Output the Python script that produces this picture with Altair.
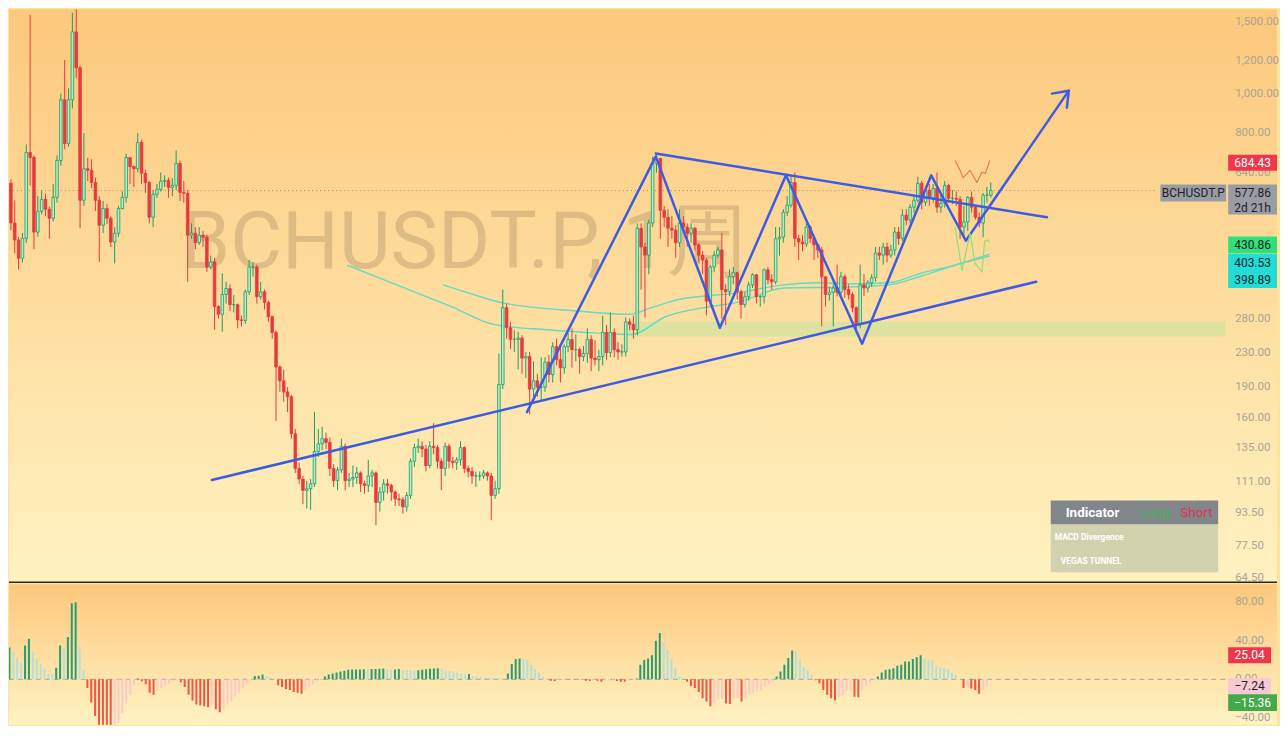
import altair as alt
import pandas as pd
import numpy as np

# ---------------- data (weekly candles) ----------------
first_open = 420
closes = [
    602, 481, 437, 394, 441, 717, 697, 457, 514, 550,
    520, 494, 556, 685, 966, 754, 966, 1418, 1157, 547,
    654, 648, 605, 547, 475, 522, 494, 432, 454, 522,
    556, 697, 662, 654, 759, 637, 605, 497, 566, 582,
    609, 612, 588, 595, 674, 572, 569, 449, 454, 430,
    449, 444, 375, 386, 300, 287, 321, 332, 303, 303,
    278, 277, 326, 375, 375, 317, 326, 307, 283, 259,
    213, 197, 185, 180, 146, 120, 113, 106, 107, 110,
    132, 138, 142, 139, 120, 112, 119, 136, 112, 113,
    114, 117, 110, 109, 115, 117, 99, 105, 110, 109,
    105, 101, 100.5, 96.5, 103, 125, 135, 136, 134, 122,
    136, 135, 125, 120, 136, 125, 124, 126, 135, 120,
    118, 115, 115, 115, 117, 115, 103, 107, 193, 298,
    266, 249, 249, 251, 224, 226, 188, 197, 190, 190,
    219, 204, 239, 222, 212, 239, 249, 235, 235, 226,
    230, 249, 224, 222, 226, 259, 231, 259, 235, 232,
    232, 275, 271, 263, 467, 420, 401, 481, 674, 693,
    517, 497, 467, 462, 430, 481, 470, 454, 467, 425,
    401, 390, 309, 375, 401, 413, 330, 326, 355, 363,
    326, 303, 317, 339, 359, 317, 317, 369, 349, 345,
    440, 444, 511, 532, 605, 441, 432, 427, 470, 441,
    425, 413, 355, 321, 325, 333, 325, 355, 330, 321,
    298, 271, 339, 333, 343, 353, 406, 401, 420, 401,
    413, 457, 441, 503, 489, 526, 547, 602, 541, 579,
    553, 585, 526, 538, 595, 553, 553, 550, 470, 484,
    556, 526, 497, 481, 563, 563, 577.86,
]
highs = [
    640, 615, 547, 445, 455, 750, 1560, 705, 560, 578,
    568, 528, 600, 705, 1000, 1210, 1030, 1580, 1620, 1170,
    800, 695, 690, 622, 560, 545, 535, 500, 470, 530,
    575, 712, 690, 665, 800, 770, 650, 610, 580, 600,
    640, 630, 622, 620, 725, 685, 610, 580, 480, 470,
    470, 460, 450, 400, 395, 302, 362, 345, 340, 320,
    305, 285, 330, 390, 385, 380, 345, 330, 310, 285,
    262, 215, 210, 190, 182, 150, 124, 115, 112, 113,
    165, 150, 152, 147, 143, 123, 121, 142, 138, 117,
    122, 121, 118, 112, 126, 119, 118, 108, 113, 113,
    110, 106, 104, 102, 105, 127, 138, 142, 140, 137,
    140, 155, 137, 127, 139, 138, 128, 128, 140, 136,
    122, 121, 118, 118, 119, 118, 117, 112, 230, 330,
    305, 275, 262, 260, 255, 232, 232, 220, 205, 225,
    225, 228, 245, 250, 240, 242, 258, 265, 256, 238,
    240, 265, 255, 248, 235, 285, 270, 290, 265, 245,
    242, 282, 280, 285, 480, 480, 430, 490, 700, 712,
    695, 530, 520, 500, 475, 520, 500, 480, 480, 470,
    430, 410, 395, 380, 410, 420, 455, 340, 370, 375,
    365, 330, 325, 345, 362, 360, 320, 372, 375, 360,
    470, 470, 520, 560, 630, 640, 450, 450, 480, 475,
    450, 425, 420, 355, 335, 340, 380, 365, 360, 340,
    325, 300, 380, 360, 348, 360, 420, 420, 430, 430,
    425, 470, 470, 520, 520, 535, 560, 625, 610, 590,
    600, 600, 640, 570, 610, 600, 580, 575, 560, 530,
    560, 575, 530, 510, 570, 590, 605,
]
lows = [
    405, 462, 405, 370, 385, 430, 595, 415, 445, 505,
    500, 440, 485, 540, 665, 730, 740, 920, 1090, 467,
    530, 610, 585, 515, 386, 455, 478, 420, 383, 445,
    520, 540, 600, 590, 640, 600, 570, 480, 470, 555,
    575, 590, 555, 560, 580, 545, 540, 345, 440, 415,
    425, 420, 365, 370, 263, 280, 260, 305, 292, 290,
    265, 268, 272, 320, 355, 305, 312, 295, 275, 250,
    157, 185, 175, 165, 142, 117, 110, 98, 95.6, 95,
    108, 128, 133, 134, 115, 108, 106, 117, 106, 108,
    108, 110, 105, 104, 105, 108, 87, 94, 100, 104,
    100, 97, 97, 93, 94, 101, 121, 131, 128, 118,
    120, 130, 120, 106, 115, 120, 120, 119, 122, 117,
    114, 110, 108, 112, 113, 112, 89.5, 101, 104, 188,
    250, 236, 232, 210, 205, 200, 163, 180, 180, 175,
    185, 195, 195, 215, 195, 205, 232, 212, 220, 205,
    220, 218, 208, 215, 208, 215, 222, 225, 225, 222,
    226, 226, 262, 250, 255, 330, 282, 360, 470, 640,
    440, 470, 420, 440, 395, 420, 455, 420, 430, 412,
    385, 360, 285, 300, 365, 395, 280, 270, 318, 340,
    312, 280, 298, 310, 333, 305, 300, 305, 340, 330,
    340, 400, 430, 500, 525, 420, 390, 410, 420, 430,
    390, 395, 268, 300, 310, 268, 318, 320, 315, 312,
    290, 258, 265, 318, 325, 335, 345, 390, 380, 385,
    395, 400, 425, 435, 475, 480, 510, 540, 520, 530,
    530, 540, 510, 510, 525, 540, 535, 530, 440, 445,
    460, 510, 490, 470, 444, 540, 555,
]

# MACD histogram values
macd_hist = [
    33, 33, 28, 22, 18, 35, 42, 28, 21, 16,
    11, 5.5, 5, 12, 35, 32, 44, 79, 80, 34,
    9.6, -9, -24, -38, -51, -55, -57, -61, -56, -45,
    -35, -25, -16, -6, 1, -2, -5, -14, -16, -11,
    -9, -7, -4, -2, -1, -3, -8, -16, -22, -26,
    -27, -28, -29, -26, -31, -34, -30, -26, -23, -18,
    -14, -9, -5, -1, 3.5, 3.6, 5, 3.5, 2, 0.3,
    -6, -8, -10, -11, -13, -14, -15, -11, -8, -5,
    -2, 0.3, 3, 5, 6, 7, 8, 9, 10, 10.1,
    10.2, 10.3, 10.5, 10.4, 10.6, 10.8, 11, 11.2, 10.5, 10,
    10.3, 10.6, 10, 9.8, 9.4, 9.2, 9.5, 10, 10.5, 11,
    11.2, 11.4, 11.2, 10, 9, 8, 7, 6, 5, 5.5,
    3.5, 3, 2.8, 2, 1.8, 1.6, 1.4, 1, 0.7,
    6, 16, 21, 21.5, 21, 20, 15, 11, 7, 3,
    0.3, -1.5, -1.6, -1, -0.8, 0.2, 0.3, 0.4, 0.2, -0.5,
    -1.5, -1.6, -1, -1.5, -2.4, -1.8, -1.6, -1.5, -1.6, -2.4,
    -2.5, -1, 0.2, 1, 15, 20, 21.6, 25, 40, 48,
    38.6, 30, 21, 12, 3, 0.1, -2.4, -7, -9, -13,
    -19.5, -23, -28, -25, -21, -20.5, -25, -25.5, -20, -19.5,
    -23, -19.5, -16, -14, -12, -11, -7.5, -5, -2.4, 3,
    8, 15, 22, 30, 28.5, 20, 12, 10, 4.4, -1,
    -4, -11, -16, -19.5, -22, -18, -16, -12, -11, -18,
    -18.5, -11, -7, -3.4, -1, 3, 7, 10, 10.5, 11.6,
    14, 15, 18.5, 18.6, 21, 23, 25, 21.6, 20, 19.8,
    14, 12, 11.8, 11, 7, 4.4, 0.3, -9, -8, -9.5,
    -11, -15, -11, -7.24,
]

# Vegas tunnel EMAs (bar index, price)
ema_slow_i = [88.5, 102.7, 115.5, 126.6, 140.5, 154.1, 162.6, 171.3, 183.2, 190.1, 202.2, 219.2, 229.5, 238.2, 246.7, 255.7]
ema_slow_p = [379, 335, 300, 271, 263, 258, 256, 283, 300, 307, 333, 335, 339, 357, 379, 398.89]
ema_fast_i = [113.5, 123.2, 128.4, 149.0, 161.8, 167.7, 174.7, 190.1, 202.2, 210.7, 221.0, 229.5, 238.2, 244.9, 255.7]
ema_fast_p = [339, 317, 307, 292, 287, 298, 312, 324, 339, 343, 341, 343, 363, 375, 403.53]
# divergence lines (short)
div_green_i = [246.7, 248.5, 250.6, 251.9, 253.7, 254.4, 255.2, 255.7]
div_green_p = [470, 367, 454, 383, 365, 434, 437, 430.86]
div_red_i = [246.7, 248.0, 248.8, 250.6, 252.4, 253.7, 254.6, 255.7]
div_red_p = [685, 648, 622, 648, 605, 641, 637, 684.43]

# drawn pattern lines (bar index, price)
support_i = [53.3, 267.8]
support_p = [112.4, 345]
resist_i = [168.8, 270.6]
resist_p = [713, 497]
zig_i = [135.3, 168.8, 185.5, 202.7, 222.5, 240.5, 249.5, 276.3]
zig_p = [165, 701, 266, 630, 243, 630, 435, 1017]
arrow_i = [271.9, 276.3, 275.8]
arrow_p = [1000, 1017, 924]

band_i = [161.8, 320]
band_p = [253, 275]

price_ticks = [64.5, 77.5, 93.5, 111, 135, 160, 190, 230, 280, 340, 640, 800, 1000, 1200, 1500]
macd_ticks = [-40, 0, 40, 80]

last_price = 577.86

# ---------------- colours ----------------
GREEN_S, GREEN_F, RED = "#179f66", "#b4eccb", "#e8393d"
BLUE = "#3d5ce4"
HIST_COL = {"gu": "#2a9c72", "gd": "#b3dfd8", "rd": "#ee5545", "ru": "#fbc9c9"}

# ---------------- frames ----------------
N = len(closes)
opens = [first_open] + closes[:-1]
df = pd.DataFrame({"i": np.arange(N), "o": opens, "c": closes, "h": highs, "l": lows})
up = df["c"] >= df["o"]
df["stroke"] = np.where(up, GREEN_S, RED)
df["fill"] = np.where(up, GREEN_F, RED)

M = len(macd_hist)
mv = np.array(macd_hist, dtype=float)
prev = np.concatenate([[mv[0]], mv[:-1]])
cat = np.where(mv >= 0, np.where(mv >= prev, "gu", "gd"), np.where(mv <= prev, "rd", "ru"))
dm = pd.DataFrame({"j": np.arange(M), "v": mv, "z": 0.0, "col": [HIST_COL[c] for c in cat]})

W, H1, H2 = 1220, 575, 141
s = 995.0 / (N - 1)
xs = alt.Scale(domain=[7.0 / s, 1227.0 / s], nice=False, zero=False)
ys = alt.Scale(type="log", domain=[63.0, 1613.0], nice=False, zero=False)
m0, m1 = -0.5, 992.0
sm = (m1 - m0) / (M - 1)
xms = alt.Scale(domain=[(8 - m0) / sm, (1228 - m0) / sm], nice=False, zero=False)
yms = alt.Scale(domain=[-47.2, 98.5], nice=False, zero=False)

one = pd.DataFrame({"a": [0]})
FONT = "Roboto"


def grad(c0, c1):
    return alt.Gradient(gradient="linear", stops=[alt.GradientStop(color=c0, offset=0),
                                                   alt.GradientStop(color=c1, offset=1)],
                        x1=0, x2=0, y1=0, y2=1)


def vrect(x0, x1, y0, y1, fill, **kw):
    return alt.Chart(one).mark_rect(fill=fill, **kw).encode(
        x=alt.value(x0), x2=alt.value(x1), y=alt.value(y0), y2=alt.value(y1))


def vtext(x, y, text, **kw):
    return alt.Chart(one).mark_text(text=text, font=FONT, **kw).encode(x=alt.value(x), y=alt.value(y))


def lines_df(pairs):
    rows = []
    for name, ii, pp in pairs:
        for k, (a, b) in enumerate(zip(ii, pp)):
            rows.append({"seg": name, "k": k, "i": a, "p": b})
    return pd.DataFrame(rows)


def value_box(v, label, fill, tcolor, top, bot, x0, x1, yscale, fs=12, second=None):
    d = pd.DataFrame({"v": [v]})
    r = alt.Chart(d).mark_rect(fill=fill, yOffset=top, y2Offset=bot).encode(
        x=alt.value(x0), x2=alt.value(x1),
        y=alt.Y("v:Q", scale=yscale, axis=None), y2="v:Q")
    mid = (top + bot) / 2 if second is None else top + 8
    t = alt.Chart(d).mark_text(text=label, font=FONT, fontSize=fs, color=tcolor, align="center",
                               baseline="middle", dy=mid).encode(
        x=alt.value((x0 + x1) / 2), y=alt.Y("v:Q", scale=yscale, axis=None))
    layers = [r, t]
    if second is not None:
        layers.append(alt.Chart(d).mark_text(text=second, font=FONT, fontSize=fs, color=tcolor,
                                             align="center", baseline="middle", dy=top + 23).encode(
            x=alt.value((x0 + x1) / 2), y=alt.Y("v:Q", scale=yscale, axis=None)))
    return layers


X = alt.X("i:Q", scale=xs, axis=None)

# ---------------- price pane ----------------
bg = vrect(0, 1272, 0, H1, grad("#fcc87c", "#fff2c1"))
watermark = vtext(172, 260, "BCHUSDT.P, 1周", fontSize=80, color="#b3956c", opacity=0.42,
                  align="left", baseline="alphabetic")

band = alt.Chart(pd.DataFrame({"i0": [band_i[0]], "i1": [band_i[1]], "p0": [band_p[0]], "p1": [band_p[1]]})).mark_rect(
    fill="#c3e3a0", opacity=0.55, clip=True).encode(
    x=alt.X("i0:Q", scale=xs, axis=None), x2="i1:Q",
    y=alt.Y("p0:Q", scale=ys, axis=None), y2="p1:Q")

dotted = alt.Chart(pd.DataFrame({"v": [last_price]})).mark_rule(
    strokeDash=[1, 3], color="#b3845a", strokeWidth=1).encode(
    x=alt.value(0), x2=alt.value(1152), y=alt.Y("v:Q", scale=ys, axis=None))

ema = alt.Chart(lines_df([("slow", ema_slow_i, ema_slow_p), ("fast", ema_fast_i, ema_fast_p)])).mark_line(
    color="#5fdcc4", strokeWidth=1.4, interpolate="monotone", clip=True).encode(
    x=X, y=alt.Y("p:Q", scale=ys, axis=None), detail="seg:N", order="k:Q")

wicks = alt.Chart(df).mark_rule(strokeWidth=1, clip=True).encode(
    x=X, y=alt.Y("l:Q", scale=ys, axis=None), y2="h:Q",
    color=alt.Color("stroke:N", scale=None, legend=None))
bodies = alt.Chart(df).mark_bar(size=2.6, strokeWidth=0.8, clip=True).encode(
    x=X, y=alt.Y("o:Q", scale=ys, axis=None), y2="c:Q",
    fill=alt.Fill("fill:N", scale=None, legend=None),
    stroke=alt.Stroke("stroke:N", scale=None, legend=None))

blue = alt.Chart(lines_df([("sup", support_i, support_p), ("res", resist_i, resist_p),
                           ("zig", zig_i, zig_p), ("arr", arrow_i, arrow_p)])).mark_line(
    color=BLUE, strokeWidth=2.5, strokeCap="round", strokeJoin="round").encode(
    x=X, y=alt.Y("p:Q", scale=ys, axis=None), detail="seg:N", order="k:Q")

div_lines = alt.Chart(lines_df([("g", div_green_i, div_green_p)])).mark_line(
    color="#80e27a", strokeWidth=1.1).encode(
    x=X, y=alt.Y("p:Q", scale=ys, axis=None), detail="seg:N", order="k:Q")
div_lines_r = alt.Chart(lines_df([("r", div_red_i, div_red_p)])).mark_line(
    color="#e8764e", strokeWidth=1.1).encode(
    x=X, y=alt.Y("p:Q", scale=ys, axis=None), detail="seg:N", order="k:Q")

ptick = pd.DataFrame({"v": price_ticks, "t": [f"{v:,.2f}" for v in price_ticks]})
price_labels = alt.Chart(ptick).mark_text(font=FONT, fontSize=11.5, color="#aaa496", align="left",
                                          baseline="middle").encode(
    x=alt.value(1230), y=alt.Y("v:Q", scale=ys, axis=None), text="t:N")

# indicator table
ind = [
    vrect(1045, 1213, 493, 517, "#81868a"),
    vrect(1045, 1213, 517, 565, "#d2d3ae"),
    vtext(1060, 505, "Indicator", fontSize=13.5, fontWeight="bold", color="#ffffff", align="left", baseline="middle"),
    vtext(1135, 505, "Long", fontSize=13.5, color="#3fb34f", align="left", baseline="middle"),
    vtext(1175, 505, "Short", fontSize=13.5, color="#e2334f", align="left", baseline="middle"),
    vtext(1049, 530, "MACD Divergence", fontSize=8.5, fontWeight="bold", color="#ffffff", align="left", baseline="middle"),
    vtext(1055, 554, "VEGAS TUNNEL", fontSize=8.5, fontWeight="bold", color="#ffffff", align="left", baseline="middle"),
]

boxes = []
boxes += value_box(684.43, "684.43", "#f0364a", "#ffffff", -6, 10, 1223, 1272, ys)
boxes += value_box(last_price, "BCHUSDT.P", "#9a9ca4", "#1d1f26", -6, 11, 1155, 1221, ys)
boxes += value_box(last_price, "577.86", "#9a9ca4", "#1d1f26", -6, 24, 1223, 1272, ys, second="2d 21h")
boxes += value_box(430.86, "430.86", "#2fe07c", "#10281a", -6, 11, 1223, 1272, ys)
boxes += value_box(403.53, "403.53", "#22dcd6", "#10282a", 0, 17, 1223, 1272, ys)
boxes += value_box(398.89, "398.89", "#22dcd6", "#10282a", 15, 32, 1223, 1272, ys)

sep = alt.Chart(one).mark_rule(color="#2a2418", strokeWidth=1.5).encode(
    x=alt.value(0), x2=alt.value(1272), y=alt.value(H1))

price = alt.layer(bg, watermark, band, dotted, ema, wicks, bodies, blue, div_lines, div_lines_r,
                  price_labels, *ind, *boxes, sep).properties(width=W, height=H1)

# ---------------- MACD pane ----------------
XM = alt.X("j:Q", scale=xms, axis=None)
bg2 = vrect(0, 1272, 0, H2, grad("#fcc87c", "#fff3c3"))
zero = alt.Chart(pd.DataFrame({"v": [0.0]})).mark_rule(strokeDash=[5, 4], color="#a9a39a", strokeWidth=1).encode(
    x=alt.value(0), x2=alt.value(1220), y=alt.Y("v:Q", scale=yms, axis=None))
hist = alt.Chart(dm).mark_bar(size=2, clip=True).encode(
    x=XM, y=alt.Y("v:Q", scale=yms, axis=None), y2="z:Q",
    color=alt.Color("col:N", scale=None, legend=None))
mtick = pd.DataFrame({"v": macd_ticks, "t": [f"{v:.2f}".replace("-", "\u2212") for v in macd_ticks]})
macd_labels = alt.Chart(mtick).mark_text(font=FONT, fontSize=11.5, color="#aaa496", align="left",
                                         baseline="middle").encode(
    x=alt.value(1230), y=alt.Y("v:Q", scale=yms, axis=None), text="t:N")
mboxes = []
mboxes += value_box(25.04, "25.04", "#f0364a", "#ffffff", -8, 8, 1223, 1266, yms)
mboxes += value_box(-7.24, "\u22127.24", "#f9c8d6", "#1d1f26", -8, 8, 1223, 1266, yms)
mboxes += value_box(-15.36, "\u221215.36", "#43a94b", "#ffffff", 0, 17, 1223, 1272, yms)

macd = alt.layer(bg2, zero, hist, macd_labels, *mboxes).properties(width=W, height=H2)

chart = alt.vconcat(price, macd, spacing=0).properties(padding=0, background="#fde3a0").configure_view(
    stroke=None).configure_concat(spacing=0)

chart.save("out.html", embed_options={"renderer": "svg", "actions": False})
